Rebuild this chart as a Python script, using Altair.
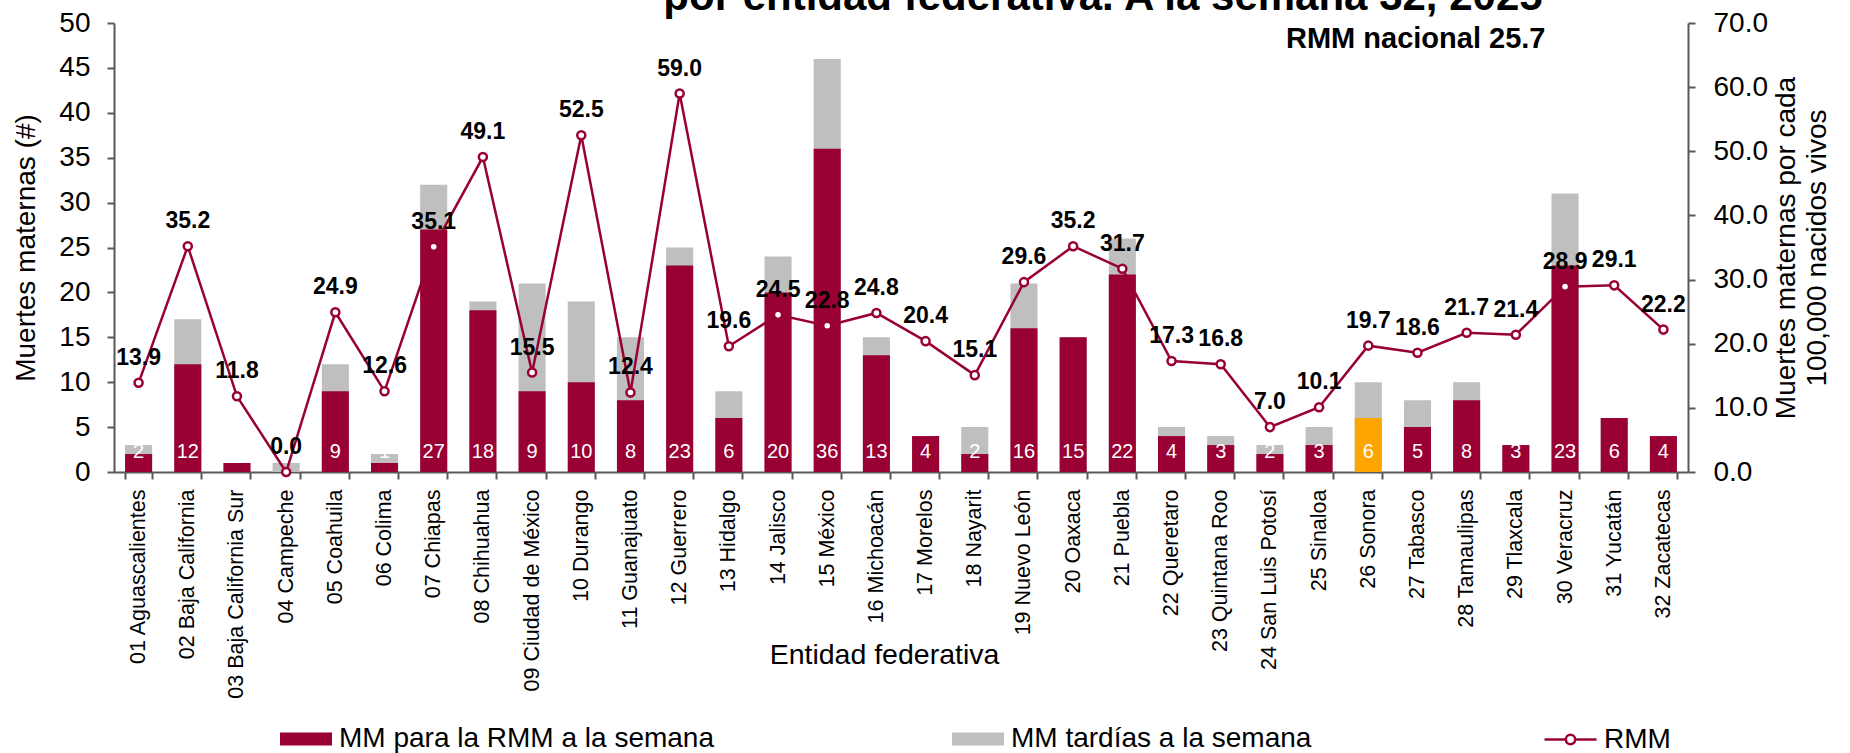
import altair as alt
import pandas as pd

estados = ["01 Aguascalientes", "02 Baja California", "03 Baja California Sur", "04 Campeche",
           "05 Coahuila", "06 Colima", "07 Chiapas", "08 Chihuahua", "09 Ciudad de México",
           "10 Durango", "11 Guanajuato", "12 Guerrero", "13 Hidalgo", "14 Jalisco", "15 México",
           "16 Michoacán", "17 Morelos", "18 Nayarit", "19 Nuevo León", "20 Oaxaca", "21 Puebla",
           "22 Queretaro", "23 Quintana Roo", "24 San Luis Potosí", "25 Sinaloa", "26 Sonora",
           "27 Tabasco", "28 Tamaulipas", "29 Tlaxcala", "30 Veracruz", "31 Yucatán", "32 Zacatecas"]
mm_rmm = [2, 12, 1, 0, 9, 1, 27, 18, 9, 10, 8, 23, 6, 20, 36, 13, 4, 2, 16, 15, 22, 4, 3, 2, 3, 6, 5, 8, 3, 23, 6, 4]
mm_tardias = [1, 5, 0, 1, 3, 1, 5, 1, 12, 9, 7, 2, 3, 4, 10, 2, 0, 3, 5, 0, 4, 1, 1, 1, 2, 4, 3, 2, 0, 8, 0, 0]
rmm = [13.9, 35.2, 11.8, 0.0, 24.9, 12.6, 35.1, 49.1, 15.5, 52.5, 12.4, 59.0, 19.6, 24.5, 22.8, 24.8,
       20.4, 15.1, 29.6, 35.2, 31.7, 17.3, 16.8, 7.0, 10.1, 19.7, 18.6, 21.7, 21.4, 28.9, 29.1, 22.2]

serie_rmm = "MM para la RMM a la semana"
serie_tard = "MM tardías a la semana"
serie_linea = "RMM"
destacado = "26 Sonora"
titulo = "por entidad federativa. A la semana 32, 2025"
nota = "RMM nacional 25.7"
ticks_izq = list(range(0, 51, 5))
ticks_der = list(range(0, 71, 10))

ROJO = "#990033"
GRIS = "#BFBFBF"
NARANJA = "#FFA500"
EJE = "#595959"
FONT = "Liberation Sans"

df = pd.DataFrame({"estado": estados, "mm": mm_rmm, "tard": mm_tardias, "rmm": rmm})
df["total"] = df["mm"] + df["tard"]
df["s_rmm"] = ["Sonora" if e == destacado else serie_rmm for e in estados]
df["s_tard"] = serie_tard
df["s_lin"] = serie_linea
df["base"] = 0

W, H = 1574, 449

x_enc = alt.X(
    "estado:N", sort=estados,
    scale=alt.Scale(paddingInner=0.45, paddingOuter=0.225),
    axis=alt.Axis(title="Entidad federativa", labelAngle=-90, labelFontSize=21.5, labelColor="black",
                  labelPadding=10, labelLimit=400, tickBand="extent", tickSize=7, tickColor=EJE,
                  tickWidth=2, domainColor=EJE, domainWidth=2, titleFontSize=28.5,
                  titleFontWeight="normal", titleColor="black", titleX=770, titleY=191,
                  titleAlign="center", titleBaseline="alphabetic"),
)

yl = alt.Scale(domain=[0, 50], nice=False, zero=True)
yr = alt.Scale(domain=[0, 70], nice=False, zero=True)

eje_izq = alt.Axis(orient="left", values=ticks_izq, title="Muertes maternas (#)", labelFontSize=28,
                   labelColor="black", labelPadding=17, tickSize=7, tickColor=EJE, tickWidth=2,
                   domainColor=EJE, domainWidth=2, grid=False, titleFontSize=28,
                   titleFontWeight="normal", titleColor="black", titleX=-88, titleY=H / 2,
                   titleAngle=-90, titleAlign="center", titleBaseline="middle")
eje_der = alt.Axis(orient="right", values=ticks_der, format=".1f",
                   title=["Muertes maternas por cada", "100,000 nacidos vivos"], labelFontSize=28,
                   labelColor="black", labelPadding=18, tickSize=7, tickColor=EJE, tickWidth=2,
                   domainColor=EJE, domainWidth=2, grid=False, titleFontSize=28,
                   titleFontWeight="normal", titleColor="black", titleX=98, titleY=H / 2,
                   titleAngle=-90, titleAlign="center", titleBaseline="middle", titleLineHeight=31)

rect_path = "M-1,-0.25L1,-0.25L1,0.25L-1,0.25Z"
linea_path = ("M-1,0L-0.18,0M0.18,0L1,0M0.18,0A0.18,0.18,0,1,1,-0.18,0"
              "A0.18,0.18,0,1,1,0.18,0")
leg_comun = dict(orient="none", title=None, symbolSize=2704, labelFontSize=28, labelColor="black",
                 labelOffset=6, labelLimit=1000, padding=0, legendY=689)

base = alt.Chart(df)

gris = base.mark_bar().encode(
    x=x_enc,
    y=alt.Y("total:Q", scale=yl, axis=eje_izq),
    color=alt.Color("s_tard:N", scale=alt.Scale(domain=[serie_tard], range=[GRIS]),
                    legend=alt.Legend(legendX=837, symbolType=rect_path, **leg_comun)),
)

rojo = base.mark_bar().encode(
    x=x_enc,
    y=alt.Y("mm:Q", scale=yl, axis=None),
    color=alt.Color("s_rmm:N", scale=alt.Scale(domain=[serie_rmm, "Sonora"], range=[ROJO, NARANJA]),
                    legend=alt.Legend(legendX=165, symbolType=rect_path, values=[serie_rmm], **leg_comun)),
)

etiq_barras = base.transform_filter("datum.mm > 0").mark_text(
    color="white", fontSize=20, baseline="middle", dy=-20
).encode(
    x=x_enc,
    y=alt.Y("base:Q", scale=yl, axis=None),
    text=alt.Text("mm:Q"),
)

linea = base.mark_line(strokeWidth=2.5).encode(
    x=x_enc,
    y=alt.Y("rmm:Q", scale=yr, axis=eje_der),
    stroke=alt.Stroke("s_lin:N", scale=alt.Scale(domain=[serie_linea], range=[ROJO]),
                      legend=alt.Legend(legendX=1429, symbolType=linea_path, symbolStrokeWidth=2.5,
                                        symbolFillColor="white", **leg_comun)),
)

puntos = base.mark_point(shape="circle", filled=True, fill="white", stroke=ROJO, strokeWidth=2.5,
                         size=65, opacity=1).encode(
    x=x_enc,
    y=alt.Y("rmm:Q", scale=yr, axis=None),
)

etiq_rmm = base.mark_text(fontWeight="bold", fontSize=23, color="black", dy=-18,
                          baseline="alphabetic").encode(
    x=x_enc,
    y=alt.Y("rmm:Q", scale=yr, axis=None),
    text=alt.Text("rmm:Q", format=".1f"),
)

df_tit = pd.DataFrame({"t": [titulo]})
df_nota = pd.DataFrame({"t": [nota]})

tit = alt.Chart(df_tit).mark_text(fontWeight="bold", fontSize=42, align="center",
                                  baseline="alphabetic", color="black").encode(
    x=alt.value(989), y=alt.value(-13), text="t:N")
nac = alt.Chart(df_nota).mark_text(fontWeight="bold", fontSize=29, align="left",
                                   baseline="alphabetic", color="black").encode(
    x=alt.value(1172), y=alt.value(25), text="t:N")

chart = alt.layer(gris, rojo, etiq_barras, linea, puntos, etiq_rmm, tit, nac).resolve_scale(
    y="independent", color="independent"
).properties(
    width=W, height=H,
    autosize=alt.AutoSizeParams(type="none"),
    padding={"left": 114, "top": 23, "right": 162, "bottom": 281},
).configure(font=FONT).configure_view(stroke=None)

chart.save("out.html", embed_options={"renderer": "svg", "actions": False})
